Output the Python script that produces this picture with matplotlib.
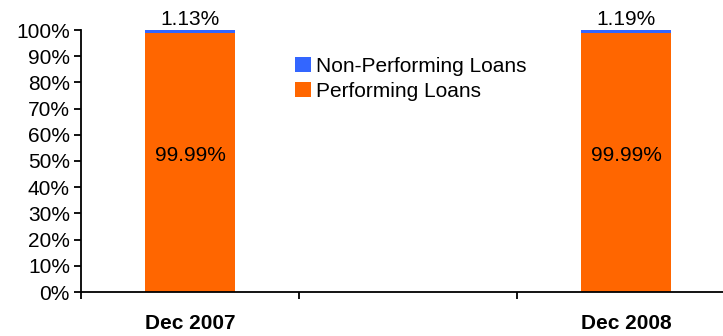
import matplotlib.pyplot as plt

plt.rcParams['font.family'] = ['Liberation Sans', 'DejaVu Sans']

categories = ["Dec 2007", "", "Dec 2008"]
performing = [98.87, 0, 98.81]
non_performing = [1.13, 0, 1.19]
performing_labels = ["99.99%", "", "99.99%"]
npl_labels = ["1.13%", "", "1.19%"]

fig = plt.figure(figsize=(7.23, 3.36), dpi=100)
ax = fig.add_axes([81 / 723, 44 / 336, 654 / 723, 262 / 336])

x = range(len(categories))
ax.bar(x, performing, width=0.41, color='#FF6600', label='Performing Loans')
ax.bar(x, non_performing, width=0.41, bottom=performing, color='#3366FF', label='Non-Performing Loans')

fs = 15
for i in x:
    if categories[i]:
        ax.text(i, 52, performing_labels[i], ha='center', va='center', fontsize=fs)
        ax.text(i, performing[i] + non_performing[i] + 0.3, npl_labels[i], ha='center', va='bottom', fontsize=fs)

ax.set_xlim(-0.5, 2.5)
ax.set_ylim(0, 100)
ax.set_yticks(range(0, 101, 10))
ax.set_yticklabels([f"{v}%" for v in range(0, 101, 10)], fontsize=fs)

ax.set_xticks([-0.5, 0.5, 1.5, 2.5])
ax.set_xticklabels([])
ax.set_xticks([0, 2], minor=True)
ax.set_xticklabels([categories[0], categories[2]], minor=True, fontsize=fs, fontweight='bold')
ax.tick_params(axis='x', which='minor', length=0, pad=16)
ax.tick_params(axis='x', which='major', length=5, width=1.3, direction='out')
ax.tick_params(axis='y', length=5, width=1.3, direction='out', pad=3)

for s in ['top', 'right']:
    ax.spines[s].set_visible(False)
for s in ['left', 'bottom']:
    ax.spines[s].set_linewidth(1.3)
ax.spines['bottom'].set_clip_on(False)

handles, labels = ax.get_legend_handles_labels()
ax.legend(handles[::-1], labels[::-1], loc='upper left', bbox_to_anchor=(0.315, 0.93),
          frameon=False, fontsize=fs, handlelength=0.75, handleheight=0.75,
          handletextpad=0.25, labelspacing=0.3, borderaxespad=0)

fig.savefig('out.png', dpi=100)
